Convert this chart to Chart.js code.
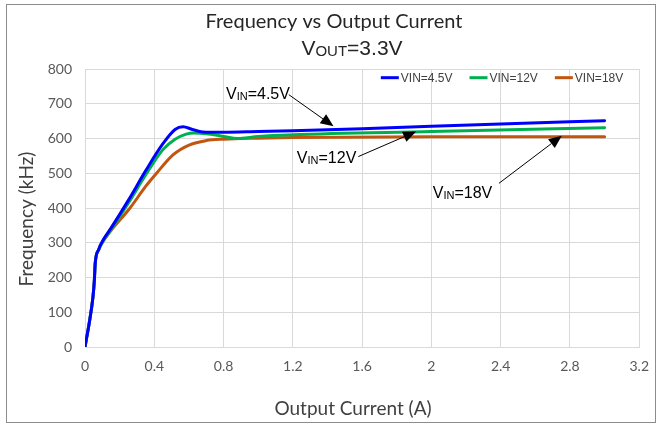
<!DOCTYPE html>
<html><head><meta charset="utf-8">
<script src="https://cdn.jsdelivr.net/npm/chart.js@4/dist/chart.umd.min.js"></script>
<style>html,body{margin:0;padding:0;background:#fff}#wrap{position:relative;width:660px;height:426px}</style>
</head><body><div id="wrap"><canvas id="c"></canvas></div>
<script>
// ---- data ----
const seriesLabels = ['VIN=4.5V', 'VIN=12V', 'VIN=18V'];
const seriesColors = ['#0000FF', '#00B050', '#C0560F'];

const current45 = [0, 0.027, 0.046, 0.054, 0.059, 0.079, 0.107, 0.15, 0.25, 0.35, 0.45, 0.52, 0.566, 0.62, 0.68, 0.8, 1.0, 1.2, 1.6, 2.4, 3.0];
const freq45    = [0, 77, 144, 192, 241, 281, 310, 342, 422, 507, 585, 626, 634, 626, 619, 618, 620, 622, 628, 642, 651];

const current12 = [0, 0.027, 0.046, 0.054, 0.059, 0.079, 0.107, 0.15, 0.25, 0.35, 0.45, 0.52, 0.58, 0.63, 0.7, 0.8, 0.88, 1.0, 1.2, 2.0, 3.0];
const freq12    = [0, 77, 144, 192, 241, 280, 307, 338, 414, 495, 568, 598, 612, 616, 614, 606, 600, 606, 611, 620, 631];

const current18 = [0, 0.027, 0.046, 0.054, 0.059, 0.079, 0.107, 0.15, 0.26, 0.35, 0.413, 0.508, 0.604, 0.7, 0.8, 1.0, 1.2, 2.0, 3.0];
const freq18    = [0, 77, 144, 192, 241, 279, 306, 335, 400, 462, 500, 553, 582, 594, 598, 601, 603, 605, 605];

const xTickValues = [0, 0.4, 0.8, 1.2, 1.6, 2, 2.4, 2.8, 3.2];
const yTickValues = [0, 100, 200, 300, 400, 500, 600, 700, 800];

// annotation callouts (data coordinates): text left x/center y, arrow start, arrow tip
const calloutMain = ['V', 'V', 'V'];
const calloutSub  = ['IN', 'IN', 'IN'];
const calloutRest = ['=4.5V', '=12V', '=18V'];
const calloutTextX = [0.814, 1.223, 2.008];
const calloutTextY = [732, 548, 447];
const arrowFromX = [1.177, 1.578, 2.390];
const arrowFromY = [726, 548, 471];
const arrowToX   = [1.435, 1.912, 2.753];
const arrowToY   = [635, 620, 608];

const titleLine1 = 'Frequency vs Output Current';
const titleLine2 = ['V', 'OUT', '=3.3V'];
const xAxisTitle = 'Output Current (A)';
const yAxisTitle = 'Frequency (kHz)';

function toPoints(xs, ys) { return xs.map((x, i) => ({ x: x, y: ys[i] })); }

const datasets = [
  { label: seriesLabels[0], data: toPoints(current45, freq45) },
  { label: seriesLabels[1], data: toPoints(current12, freq12) },
  { label: seriesLabels[2], data: toPoints(current18, freq18) }
].map((d, i) => Object.assign(d, {
  borderColor: seriesColors[i], backgroundColor: seriesColors[i],
  borderWidth: 3, pointRadius: 0, fill: false,
  cubicInterpolationMode: 'monotone', borderCapStyle: 'round', borderJoinStyle: 'round'
}));

const TICK_FONT = { family: 'Lato', size: 14 };
const SANS = '"Liberation Sans", Arial, sans-serif';

const decor = {
  id: 'decor',
  beforeDraw(chart) {
    const ctx = chart.ctx;
    ctx.save();
    ctx.fillStyle = '#fff';
    ctx.fillRect(0, 0, chart.width, chart.height);
    ctx.strokeStyle = '#8c8c8c';
    ctx.lineWidth = 1;
    ctx.strokeRect(6.5, 4.5, 649, 418);
    ctx.restore();
  },
  afterDraw(chart) {
    const ctx = chart.ctx;
    const xs = chart.scales.x, ys = chart.scales.y;
    ctx.save();
    ctx.fillStyle = '#262626';
    ctx.textBaseline = 'alphabetic';
    ctx.textAlign = 'center';
    ctx.font = '20px Lato';
    ctx.fillText(titleLine1, 334, 28);
    drawSub(ctx, titleLine2[0], titleLine2[1], titleLine2[2], 21, 15, 352, 55, 'center', '#262626');
    ctx.fillStyle = '#404040';
    ctx.font = '19px Lato';
    ctx.textAlign = 'center';
    ctx.textBaseline = 'middle';
    ctx.fillText(xAxisTitle, 353, 409);
    ctx.save();
    ctx.translate(27, 219);
    ctx.rotate(-Math.PI / 2);
    ctx.fillText(yAxisTitle, 0, 0);
    ctx.restore();
    // legend inside plot, top right
    ctx.font = '12px ' + SANS;
    ctx.textBaseline = 'middle';
    ctx.textAlign = 'left';
    const ly = ys.getPixelForValue(775);
    const widths = chart.data.datasets.map(d => ctx.measureText(d.label).width);
    let total = 0;
    widths.forEach((w, i) => { total += 18 + 2 + w + (i < widths.length - 1 ? 17 : 0); });
    let lx = chart.chartArea.right - 16 - total;
    chart.data.datasets.forEach((d, i) => {
      ctx.strokeStyle = d.borderColor;
      ctx.lineWidth = 3;
      ctx.beginPath();
      ctx.moveTo(lx, ly); ctx.lineTo(lx + 18, ly);
      ctx.stroke();
      ctx.fillStyle = '#404040';
      ctx.fillText(d.label, lx + 20, ly + 0.5);
      lx += 18 + 2 + widths[i] + 17;
    });
    for (let i = 0; i < calloutMain.length; i++) {
      const tx = xs.getPixelForValue(calloutTextX[i]);
      const ty = ys.getPixelForValue(calloutTextY[i]);
      drawSub(ctx, calloutMain[i], calloutSub[i], calloutRest[i], 16, 11, tx, ty + 6, 'left', '#000');
      const x1 = xs.getPixelForValue(arrowFromX[i]), y1 = ys.getPixelForValue(arrowFromY[i]);
      const x2 = xs.getPixelForValue(arrowToX[i]), y2 = ys.getPixelForValue(arrowToY[i]);
      drawArrow(ctx, x1, y1, x2, y2);
    }
    ctx.restore();
  }
};

function drawSub(ctx, a, b, c, big, small, x, y, align, color) {
  ctx.save();
  ctx.fillStyle = color;
  ctx.textBaseline = 'alphabetic';
  ctx.textAlign = 'left';
  ctx.font = big + 'px ' + SANS;
  const wa = ctx.measureText(a).width, wc = ctx.measureText(c).width;
  ctx.font = small + 'px ' + SANS;
  const wb = ctx.measureText(b).width;
  const w = wa + wb + wc;
  const sx = align === 'center' ? x - w / 2 : x;
  ctx.font = big + 'px ' + SANS;
  ctx.fillText(a, sx, y);
  ctx.font = small + 'px ' + SANS;
  ctx.fillText(b, sx + wa, y + 1);
  ctx.font = big + 'px ' + SANS;
  ctx.fillText(c, sx + wa + wb, y);
  ctx.restore();
}

function drawArrow(ctx, x1, y1, x2, y2) {
  const ang = Math.atan2(y2 - y1, x2 - x1);
  const len = 13, half = 5.5;
  const bx = x2 - len * Math.cos(ang), by = y2 - len * Math.sin(ang);
  ctx.save();
  ctx.strokeStyle = '#000';
  ctx.fillStyle = '#000';
  ctx.lineWidth = 1;
  ctx.beginPath();
  ctx.moveTo(x1, y1); ctx.lineTo(bx, by);
  ctx.stroke();
  ctx.beginPath();
  ctx.moveTo(x2, y2);
  ctx.lineTo(bx + half * Math.sin(ang), by - half * Math.cos(ang));
  ctx.lineTo(bx - half * Math.sin(ang), by + half * Math.cos(ang));
  ctx.closePath();
  ctx.fill();
  ctx.restore();
}

new Chart(document.getElementById('c'), {
  type: 'line',
  data: { datasets: datasets },
  plugins: [decor],
  options: {
    responsive: true,
    maintainAspectRatio: false,
    animation: false,
    devicePixelRatio: 1,
    layout: { padding: { left: 0, top: 69, right: 17, bottom: 49 } },
    plugins: { legend: { display: false }, title: { display: false }, tooltip: { enabled: false } },
    scales: {
      x: {
        type: 'linear', min: 0, max: 3.2,
        afterBuildTicks: s => { s.ticks = xTickValues.map(v => ({ value: v })); },
        afterFit: s => { s.height = 30; },
        grid: { color: '#d9d9d9', drawTicks: false, lineWidth: 1 },
        border: { display: true, color: '#d9d9d9' },
        ticks: { font: TICK_FONT, color: '#595959', padding: 11, maxRotation: 0, callback: v => String(Math.round(v * 10) / 10) }
      },
      y: {
        type: 'linear', min: 0, max: 800,
        afterBuildTicks: s => { s.ticks = yTickValues.map(v => ({ value: v })); },
        afterFit: s => { s.width = 85; },
        grid: { color: '#d9d9d9', drawTicks: false, lineWidth: 1 },
        border: { display: true, color: '#d9d9d9' },
        ticks: { font: TICK_FONT, color: '#595959', padding: 13 }
      }
    }
  }
});
</script></body></html>
